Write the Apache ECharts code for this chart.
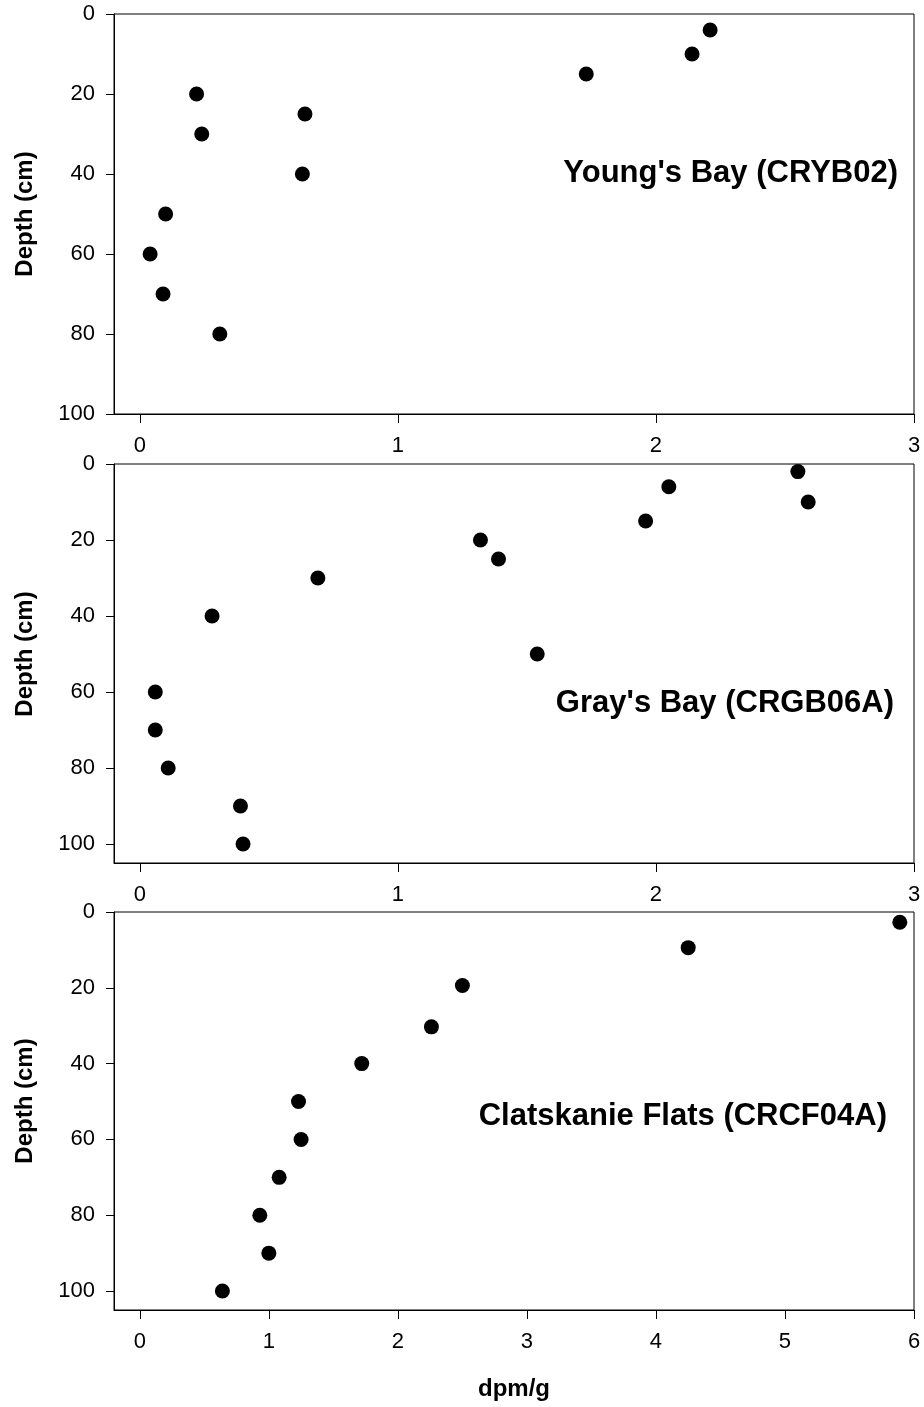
<!DOCTYPE html>
<html>
<head>
<meta charset="utf-8">
<script src="https://cdn.jsdelivr.net/npm/echarts@6/dist/echarts.min.js"></script>
<style>
html,body{margin:0;padding:0;background:#fff;}
#chart{width:924px;height:1407px;}
</style>
</head>
<body>
<div id="chart"></div>
<script>
// ---- data ----
const panelTitles = ["Young's Bay (CRYB02)", "Gray's Bay (CRGB06A)", "Clatskanie Flats (CRCF04A)"];
const youngsDepth = [4, 10, 15, 20, 25, 30, 40, 50, 60, 70, 80];
const youngsDpm   = [2.21, 2.14, 1.73, 0.22, 0.64, 0.24, 0.63, 0.10, 0.04, 0.09, 0.31];
const graysDepth  = [2, 6, 10, 15, 20, 25, 30, 40, 50, 60, 70, 80, 90, 100];
const graysDpm    = [2.55, 2.05, 2.59, 1.96, 1.32, 1.39, 0.69, 0.28, 1.54, 0.06, 0.06, 0.11, 0.39, 0.40];
const clatsDepth  = [2.7, 9.4, 19.4, 30.3, 40, 50, 60, 70, 80, 90, 100];
const clatsDpm    = [5.89, 4.25, 2.50, 2.26, 1.72, 1.23, 1.25, 1.08, 0.93, 1.00, 0.64];
const depthTicks  = [0, 20, 40, 60, 80, 100];
const dpmTicksBay = [0, 1, 2, 3];
const dpmTicksFlats = [0, 1, 2, 3, 4, 5, 6];
const yAxisName = 'Depth (cm)';
const xAxisName = 'dpm/g';

// ---- chart ----
const FONT = 'Liberation Sans, Arial, sans-serif';
const grids = [
  {left: 114, right: 10, top: 14, height: 400},
  {left: 114, right: 10, top: 464, height: 399},
  {left: 114, right: 10, top: 912, height: 398}
].map(g => Object.assign(g, {show: true, borderColor: '#000', borderWidth: 1, containLabel: false}));

function xAxisFor(i, min, max, ticks, withName) {
  const ax = {
    type: 'value', gridIndex: i, min: min, max: max,
    axisLine: {show: true, onZero: false, lineStyle: {color: '#000', width: 1}},
    axisTick: {show: true, inside: false, length: 9, lineStyle: {color: '#000'}, customValues: ticks},
    axisLabel: {show: true, margin: 21, fontSize: 22, color: '#000', fontFamily: FONT, customValues: ticks},
    splitLine: {show: false}
  };
  if (withName) {
    ax.name = xAxisName;
    ax.nameLocation = 'middle';
    ax.nameGap = 67;
    ax.nameTextStyle = {fontSize: 24, fontWeight: 'bold', color: '#000', fontFamily: FONT};
  }
  return ax;
}
function yAxisFor(i, max) {
  return {
    type: 'value', gridIndex: i, min: 0, max: max, inverse: true,
    axisLine: {show: true, onZero: false, lineStyle: {color: '#000', width: 1}},
    axisTick: {show: true, inside: false, length: 8, lineStyle: {color: '#000'}, customValues: depthTicks},
    axisLabel: {show: true, margin: 19, fontSize: 22, color: '#000', fontFamily: FONT, customValues: depthTicks},
    splitLine: {show: false}
  };
}
function pairs(xs, ys) { return xs.map((x, k) => [x, ys[k]]); }
function scatter(i, xs, ys) {
  return {type: 'scatter', xAxisIndex: i, yAxisIndex: i, symbol: 'circle', symbolSize: 15,
    itemStyle: {color: '#000', opacity: 1}, data: pairs(xs, ys), silent: true};
}
function titleText(text, x, y) {
  return {type: 'text', x: x, y: y, silent: true,
    style: {text: text, align: 'right', verticalAlign: 'middle', fontSize: 31, fontWeight: 'bold', fontFamily: FONT, fill: '#000'}};
}
function depthName(y) {
  return {type: 'text', x: 25, y: y, rotation: Math.PI / 2, silent: true,
    style: {text: yAxisName, align: 'center', verticalAlign: 'middle', fontSize: 24, fontWeight: 'bold', fontFamily: FONT, fill: '#000'}};
}

const option = {
  backgroundColor: '#fff',
  animation: false,
  grid: grids,
  xAxis: [
    xAxisFor(0, -0.1, 3, dpmTicksBay, false),
    xAxisFor(1, -0.1, 3, dpmTicksBay, false),
    xAxisFor(2, -0.2, 6, dpmTicksFlats, true)
  ],
  yAxis: [yAxisFor(0, 100), yAxisFor(1, 105), yAxisFor(2, 105)],
  series: [
    scatter(0, youngsDpm, youngsDepth),
    scatter(1, graysDpm, graysDepth),
    scatter(2, clatsDpm, clatsDepth)
  ],
  graphic: [
    titleText(panelTitles[0], 898, 173),
    titleText(panelTitles[1], 894, 703),
    titleText(panelTitles[2], 887, 1116),
    depthName(214),
    depthName(654),
    depthName(1101)
  ]
};
const chart = echarts.init(document.getElementById('chart'), null, {renderer: 'canvas'});
chart.setOption(option);
</script>
</body>
</html>
